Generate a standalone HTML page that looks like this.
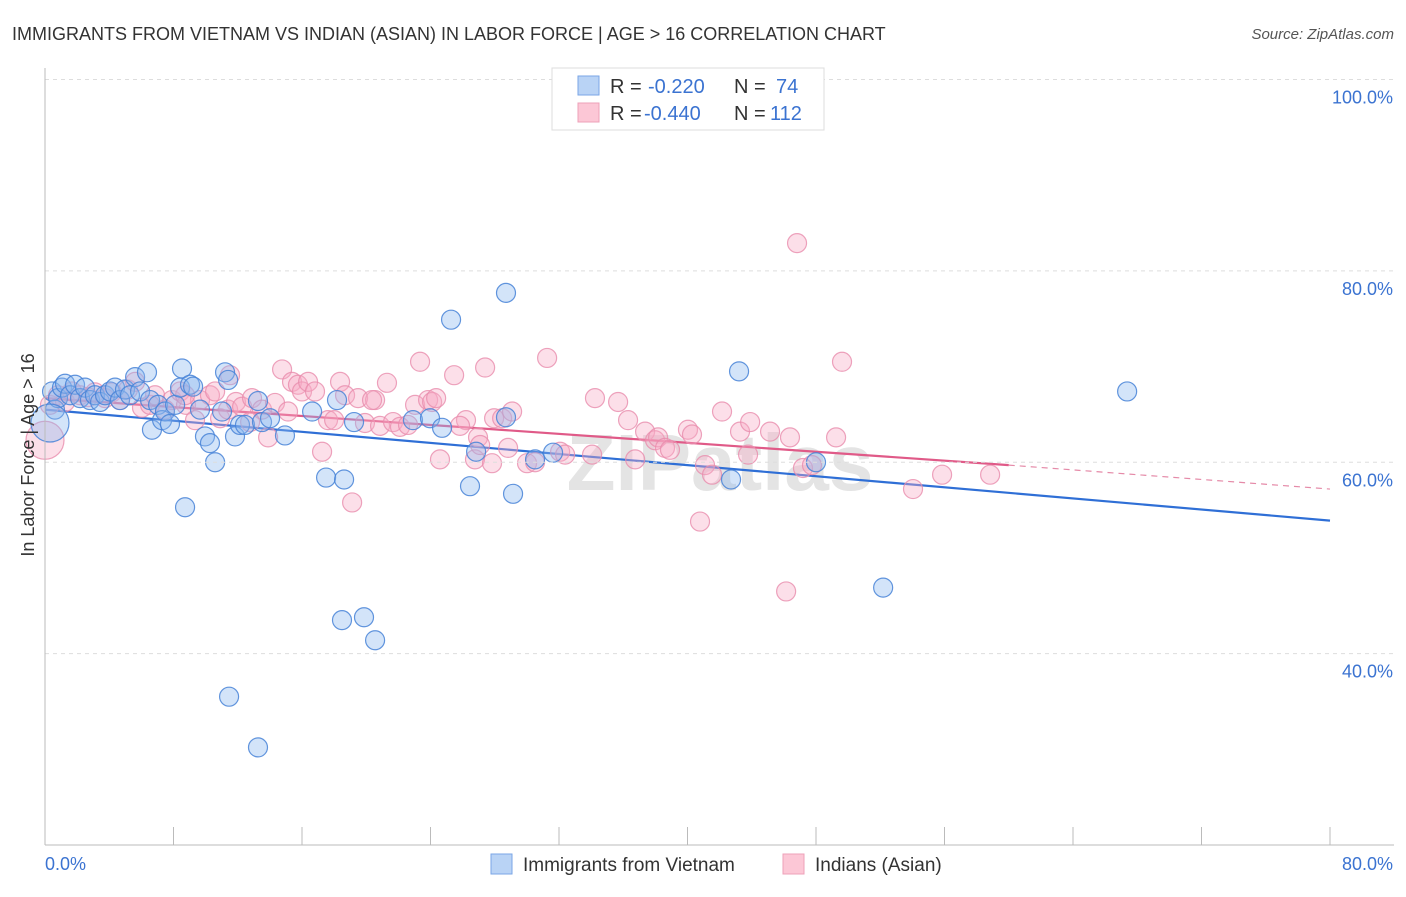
<!DOCTYPE html>
<html><head><meta charset="utf-8"><style>
body{margin:0;background:#fff;font-family:"Liberation Sans",sans-serif;}
svg text{font-family:"Liberation Sans",sans-serif;}
</style></head><body>
<svg id="chart" width="1406" height="892" xmlns="http://www.w3.org/2000/svg">
<text x="12" y="40" font-size="18" fill="#333">IMMIGRANTS FROM VIETNAM VS INDIAN (ASIAN) IN LABOR FORCE | AGE &gt; 16 CORRELATION CHART</text>
<text x="1394" y="39" font-size="15" fill="#555" font-style="italic" text-anchor="end">Source: ZipAtlas.com</text>
<text x="720" y="490" font-size="80" fill="#e4e4e4" text-anchor="middle" font-weight="bold">ZIPatlas</text>
<g id="grid"></g><g id="pts"></g><g id="lines"></g>
<text transform="translate(34,455) rotate(-90)" font-size="18" fill="#333" text-anchor="middle">In Labor Force | Age &gt; 16</text>
<g>
<rect x="552" y="68" width="272" height="62" fill="#fff" stroke="#ddd"/>
<rect x="578" y="76" width="21" height="19" fill="#b9d3f5" stroke="#7aa6e6"/>
<rect x="578" y="103" width="21" height="19" fill="#fcc7d6" stroke="#eea0b8"/>
<text x="610" y="93" font-size="20" fill="#333">R = </text><text x="648" y="93" font-size="20" fill="#3b73d1">-0.220</text>
<text x="734" y="93" font-size="20" fill="#333">N = </text><text x="776" y="93" font-size="20" fill="#3b73d1">74</text>
<text x="610" y="120" font-size="20" fill="#333">R = </text><text x="644" y="120" font-size="20" fill="#3b73d1">-0.440</text>
<text x="734" y="120" font-size="20" fill="#333">N = </text><text x="770" y="120" font-size="20" fill="#3b73d1">112</text>
</g>
<g>
<rect x="491" y="854" width="21" height="20" fill="#b9d3f5" stroke="#7aa6e6"/>
<text x="523" y="871" font-size="19" fill="#333">Immigrants from Vietnam</text>
<rect x="783" y="854" width="21" height="20" fill="#fcc7d6" stroke="#eea0b8"/>
<text x="815" y="871" font-size="19" fill="#333">Indians (Asian)</text>
</g>
</svg>
<script>
const yTicks=[40,60,80,100];
const yTickLabels=["40.0%","60.0%","80.0%","100.0%"];
const xTickCount=10;
const xLabels=["0.0%","80.0%"];
const blueX=[0.44,0.62,0.81,1.06,1.25,1.56,1.87,2.18,2.49,2.80,3.11,3.43,3.74,4.05,4.36,4.67,4.98,5.29,5.61,5.92,6.35,6.54,6.66,7.04,7.29,7.47,7.78,8.10,8.41,8.53,8.72,9.03,9.22,9.65,9.96,10.27,10.59,11.02,11.21,11.40,11.83,12.14,12.45,13.26,13.51,14.01,14.94,11.46,13.26,16.63,17.50,18.18,18.62,18.49,19.24,19.86,20.55,22.91,23.97,24.72,25.28,26.46,26.84,28.70,28.70,29.14,30.51,31.63,42.71,43.21,48.00,52.18,67.37,0.31];
const blueY=[67.4,65.5,66.7,67.8,68.2,67.0,68.1,66.7,67.8,66.5,67.0,66.3,67.0,67.4,67.8,66.5,67.6,67.0,68.9,67.4,69.4,66.5,63.4,66.0,64.4,65.3,64.0,66.0,67.8,69.8,55.3,68.1,67.9,65.5,62.7,62.0,60.0,65.3,69.4,68.6,62.7,63.9,63.9,66.4,64.2,64.6,62.8,35.5,30.2,65.3,58.4,66.5,58.2,43.5,64.2,43.8,41.4,64.4,64.6,63.6,74.9,57.5,61.1,77.7,64.7,56.7,60.3,61.0,58.2,69.5,60.0,46.9,67.4,64.1];
const pinkX=[0,0.31,0.81,1.25,1.68,2.18,2.68,3.11,3.74,4.17,4.67,5.17,5.61,6.04,6.54,6.85,7.47,7.91,8.41,8.78,9.34,9.65,10.27,10.59,10.90,11.40,11.89,12.27,12.89,13.51,13.89,14.32,14.76,15.13,15.38,15.75,16.00,16.38,16.81,17.25,17.62,18.00,18.37,18.68,19.12,19.49,19.92,20.55,20.86,21.29,21.67,22.10,22.60,23.04,23.35,23.85,24.10,24.35,24.59,25.47,26.21,26.77,26.96,27.40,27.83,27.96,28.46,28.83,29.08,30.01,30.51,31.26,32.07,32.38,34.24,34.06,35.68,36.30,36.74,37.36,37.98,38.17,38.60,38.91,40.03,40.28,40.78,41.09,41.53,42.15,43.27,43.77,43.90,45.14,46.14,46.38,46.82,47.19,47.75,49.25,49.62,54.04,55.85,58.84,8.72,11.52,12.77,20.36,25.84,27.09];
const pinkY=[62.3,66.0,67.0,66.3,67.4,67.0,66.8,67.3,66.7,67.3,66.5,67.6,68.4,65.7,66.0,67.0,65.5,66.5,67.4,66.0,64.4,66.5,67.0,67.4,64.6,65.5,66.3,65.8,66.7,65.5,62.6,66.2,69.7,65.3,68.4,68.1,67.4,68.4,67.4,61.1,64.4,64.4,68.4,67.0,55.8,66.7,64.1,66.5,63.8,68.3,64.2,63.7,63.9,66.0,70.5,66.5,66.3,66.7,60.3,69.1,64.4,60.3,62.6,69.9,59.9,64.6,64.6,61.5,65.3,59.9,60.0,70.9,61.1,60.8,66.7,60.8,66.3,64.4,60.3,63.2,62.3,62.6,61.5,61.3,63.4,62.9,53.8,59.7,58.7,65.3,63.2,60.8,64.2,63.2,46.5,62.6,82.9,59.4,59.7,62.6,70.5,57.2,58.7,58.7,67.0,69.1,64.2,66.5,63.8,61.8];
const blueTrend=[[0,65.5],[80,53.9]];
const pinkTrendSolid=[[0,66.7],[60,59.7]];
const pinkTrendDash=[[60,59.7],[80,57.2]];
const NS="http://www.w3.org/2000/svg";
const X0=45,X1=1330,Y0=845,Y1=79.5;
function sx(v){return X0+(v/80)*(X1-X0);}
function sy(v){return Y0-((v-20)/80)*(Y0-Y1);}
function mk(tag,attrs,parent){const e=document.createElementNS(NS,tag);for(const k in attrs)e.setAttribute(k,attrs[k]);document.getElementById(parent).appendChild(e);return e;}
const topLine=mk('line',{x1:X0,x2:1394,y1:Y1,y2:Y1,stroke:'#ddd','stroke-dasharray':'4,4'},'grid');


yTicks.forEach((t,i)=>{
 if(t<100){const g=mk('line',{x1:X0,x2:1394,y1:sy(t),y2:sy(t),stroke:'#ddd','stroke-dasharray':'4,4'},'grid');
 
 }
 const l=mk('text',{x:1393,y:sy(t)+24,'font-size':18,fill:'#3b73d1','text-anchor':'end'},'grid');
 l.textContent=yTickLabels[i];
 
 
});
const axX=mk('line',{x1:X0,x2:1394,y1:Y0,y2:Y0,stroke:'#bbb'},'grid');


const axY=mk('line',{x1:X0,x2:X0,y1:68,y2:Y0,stroke:'#bbb'},'grid');


for(let i=1;i<=xTickCount;i++){const v=i*80/xTickCount;const tk=mk('line',{x1:sx(v),x2:sx(v),y1:Y0,y2:Y0-18,stroke:'#bbb'},'grid');
 
 }
[[0,'start',45],[80,'end',1393]].forEach((d,i)=>{const t=mk('text',{x:d[2],y:870,'font-size':18,fill:'#3b73d1','text-anchor':d[1]},'grid');t.textContent=xLabels[i];
 
 });
function pts(xs,ys,fill,stroke,name){xs.forEach((x,i)=>{const big=(i===xs.length-1&&name==='vietnam')||(i===0&&name==='indian');
 const c=mk('circle',{cx:sx(x),cy:sy(ys[i]),r:big?19:9.5,fill:fill,stroke:stroke,'stroke-width':1.2},'pts');
 
 });}
pts(pinkX,pinkY,'rgba(246,170,196,0.38)','rgba(232,140,172,0.8)','indian');
pts(blueX,blueY,'rgba(140,185,240,0.38)','rgba(70,130,215,0.85)','vietnam');
function line(p,color,dash,name){const l=mk('line',{x1:sx(p[0][0]),y1:sy(p[0][1]),x2:sx(p[1][0]),y2:sy(p[1][1]),stroke:color,'stroke-width':dash?1.2:2.2},'lines');
 if(dash)l.setAttribute('stroke-dasharray','6,5');
 
 }
line(blueTrend,'#2f6fd6',false,'trend-line-vietnam');
line(pinkTrendSolid,'#e05a88',false,'trend-line-indian');
line(pinkTrendDash,'#e58aa8',true,'trend-line-indian-extrapolated');
const svg=document.getElementById('chart');
['grid','pts','lines'].forEach(id=>svg.insertBefore(document.getElementById(id),svg.children[3]));
</script>
</body></html>
